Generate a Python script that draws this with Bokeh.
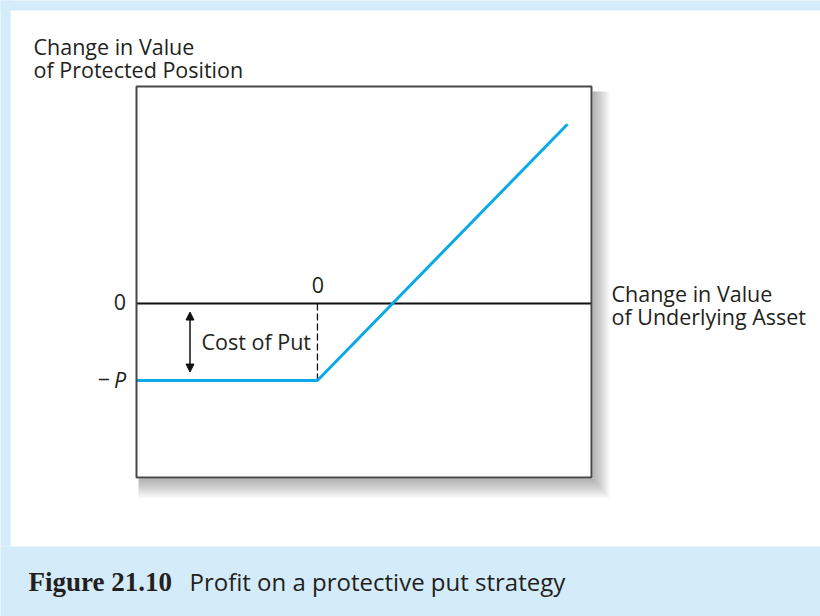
from bokeh.plotting import figure
from bokeh.models import Label, Arrow, NormalHead, BoxAnnotation, Range1d
from bokeh.embed import file_html
from bokeh.resources import INLINE

# ---- data (profit on a protective put, put premium P = 1 unit) ----
underlying_change = [-2.41, 0.0, 3.33]
position_change = [-1.0, -1.0, 2.33]
strike = 0.0
put_cost = 1.0
x_domain = (-2.41, 3.65)
y_domain = (-2.26, 2.82)

y_title = ["Change in Value", "of Protected Position"]
x_title = ["Change in Value", "of Underlying Asset"]
zero_label = "0"
cost_label = "Cost of Put"
caption_num = "Figure 21.10"
caption_text = "Profit on a protective put strategy"

# ---- layout (page pixels) ----
W, H = 820, 616
FL, FR, FT, FB = 136, 591, 86, 477
X0, X1 = x_domain
Y0, Y1 = y_domain
TY = -9  # text vertical correction

def dx(px):
    return X0 + (px - FL) / (FR - FL) * (X1 - X0)

def dy(py):
    return Y1 - (py - FT) / (FB - FT) * (Y1 - Y0)

FONT = "Open Sans"
INK = "#231f20"
BLUE = "#0aaae8"
PALE = "#d4ecf9"

p = figure(width=W, height=H, x_range=Range1d(dx(0), dx(W)), y_range=Range1d(dy(H), dy(0)),
           output_backend="svg", toolbar_location=None,
           x_axis_location=None, y_axis_location=None,
           min_border=0, min_border_left=0, min_border_right=0,
           min_border_top=0, min_border_bottom=0)
p.title.visible = False
p.xgrid.visible = False
p.ygrid.visible = False
p.background_fill_color = "white"
p.border_fill_color = "white"
p.outline_line_color = None

# page frame strips and caption band
for l, r, t, b in [(-10, W + 10, 546, H + 10), (-10, 10, -10, 546), (-10, W + 10, -10, 10)]:
    p.add_layout(BoxAnnotation(left=dx(l), right=dx(r), top=dy(t), bottom=dy(b),
                               fill_color=PALE, fill_alpha=1, line_color=None,
                               line_alpha=0))

# soft drop shadow (right and bottom)
for e in range(1, 14):
    sr = 1.25 * e
    sb = 1.45 * e
    p.add_layout(BoxAnnotation(left=dx(FR + 1), right=dx(FR + 2 + sr),
                               top=dy(FT + 5), bottom=dy(FB + 2 + sb),
                               fill_color="black", fill_alpha=0.024,
                               line_color=None, line_alpha=0))
    p.add_layout(BoxAnnotation(left=dx(FL + 2), right=dx(FR + 1),
                               top=dy(FB + 1), bottom=dy(FB + 2 + sb),
                               fill_color="black", fill_alpha=0.024,
                               line_color=None, line_alpha=0))

# plot box
p.add_layout(BoxAnnotation(left=X0, right=X1, bottom=Y0, top=Y1,
                           fill_alpha=0, line_color="#474747", line_width=2,
                           line_alpha=1))

# zero line
p.segment(x0=[X0], y0=[0], x1=[X1], y1=[0], line_color="#111111", line_width=2)

# dashed line at the strike
p.segment(x0=[strike], y0=[0], x1=[strike], y1=[-put_cost],
          line_color="#111111", line_width=1.3, line_dash="7 3")

# payoff
p.line(underlying_change, position_change, line_color=BLUE, line_width=3)

# cost-of-put arrow
gap = 0.11
ax = dx(189.5)
p.add_layout(Arrow(x_start=ax, y_start=-gap, x_end=ax, y_end=-put_cost + gap,
                   line_color="#111111", line_width=1.5,
                   start=NormalHead(size=8, fill_color="#111111", line_color="#111111"),
                   end=NormalHead(size=8, fill_color="#111111", line_color="#111111")))


def lab(text, px, py, size="21.5px", align="left", font=FONT, style="normal", color=INK):
    p.add_layout(Label(x=dx(px), y=dy(py + TY), text=text, text_font=font,
                       text_font_size=size, text_align=align,
                       text_baseline="alphabetic", text_font_style=style,
                       text_color=color))

lab(y_title[0], 33, 55)
lab(y_title[1], 33, 78)
lab(x_title[0], 611, 302)
lab(x_title[1], 611, 325)
lab(zero_label, 317.5, 293, align="center")
lab(zero_label, 125.5, 310.5, align="right")
lab("\u2212", 103.5, 387.5, align="center")
lab("P", 119.5, 387.5, align="center", style="italic")
lab(cost_label, 201, 349.5)
lab(caption_num, 28, 590, size="27px", font="Liberation Serif", style="bold")
lab(caption_text, 189, 590, size="24px")

open("out.html", "w").write(file_html(p, INLINE))
